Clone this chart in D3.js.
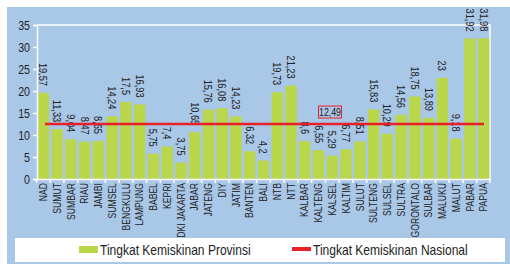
<!DOCTYPE html>
<html>
<head>
<meta charset="utf-8">
<script src="https://cdn.jsdelivr.net/npm/d3@7"></script>
<style>
  body { margin: 0; background: #fff; }
  svg text { font-family: "Liberation Sans", Arial, sans-serif; }
</style>
</head>
<body>
<div id="chart"></div>
<script>
const provinces = ['NAD','SUMUT','SUMBAR','RIAU','JAMBI','SUMSEL','BENGKULU','LAMPUNG','BABEL','KEPRI',
  'DKI JAKARTA','JABAR','JATENG','DIY','JATIM','BANTEN','BALI','NTB','NTT','KALBAR','KALTENG','KALSEL',
  'KALTIM','SULUT','SULTENG','SULSEL','SULTRA','GORONTALO','SULBAR','MALUKU','MALUT','PABAR','PAPUA'];
const povertyRates = [19.57, 11.33, 9.04, 8.47, 8.65, 14.24, 17.5, 16.93, 5.75, 7.4,
  3.75, 10.65, 15.76, 16.08, 14.23, 6.32, 4.2, 19.73, 21.23, 8.6, 6.55, 5.29,
  6.77, 8.51, 15.83, 10.29, 14.56, 18.75, 13.89, 23, 9.18, 31.92, 31.98];
const nationalRate = 12.49;
const yTicks = [0, 5, 10, 15, 20, 25, 30, 35];
const legendLabels = ['Tingkat Kemiskinan Provinsi', 'Tingkat Kemiskinan Nasional'];

const width = 510, height = 264;
const blue = '#a9c7e7', green = '#bad64a', red = '#e8202a';
const narrow = 0.8; // squeeze text, no narrow font installed
const fmt = v => String(v).replace('.', ',');

const data = provinces.map((p, i) => ({ name: p, value: povertyRates[i] }));

const svg = d3.select('#chart').append('svg')
  .attr('width', width).attr('height', height);

// panel background
svg.append('rect').attr('x', 7).attr('y', 7).attr('width', width - 7).attr('height', height - 7)
  .attr('fill', blue);

const x = d3.scaleBand().domain(provinces).range([37, 490]).paddingInner(0.18).paddingOuter(0.05);
const y = d3.scaleLinear().domain([0, 35]).range([179, 25]);

// plot frame (top and right white lines)
svg.append('path')
  .attr('d', `M37,${y(35)}H490V${y(0)}`)
  .attr('fill', 'none').attr('stroke', '#fff').attr('stroke-width', 1.5);

// bars
svg.selectAll('.bar').data(data).enter().append('rect')
  .attr('class', 'bar')
  .attr('x', d => x(d.name))
  .attr('y', d => y(d.value))
  .attr('width', x.bandwidth())
  .attr('height', d => y(0) - y(d.value))
  .attr('fill', green);

// value labels, rotated
svg.selectAll('.val').data(data).enter().append('text')
  .attr('class', 'val')
  .attr('transform', d => `translate(${x(d.name) + x.bandwidth() / 2},${y(d.value) - 7}) rotate(90) scale(${narrow},1)`)
  .attr('text-anchor', 'end')
  .attr('dy', '0.35em')
  .attr('font-size', 11.5)
  .attr('fill', '#222')
  .text(d => fmt(d.value));

// national line
svg.append('line')
  .attr('x1', 45).attr('x2', 484)
  .attr('y1', y(nationalRate)).attr('y2', y(nationalRate))
  .attr('stroke', red).attr('stroke-width', 2.5);

// national label box
const lbl = svg.append('g').attr('transform', `translate(330,${y(nationalRate) - 12})`);
lbl.append('rect').attr('x', -11.5).attr('y', -6).attr('width', 23).attr('height', 12)
  .attr('fill', 'none').attr('stroke', red).attr('stroke-width', 1);
lbl.append('text').attr('text-anchor', 'middle').attr('dy', '0.35em')
  .attr('transform', `scale(${narrow},1)`)
  .attr('font-size', 11).attr('fill', '#222').text(fmt(nationalRate));

// y axis
const yAxis = svg.append('g').attr('transform', 'translate(37,0)')
  .call(d3.axisLeft(y).tickValues(yTicks).tickSize(4).tickPadding(4));
yAxis.select('.domain').attr('stroke', '#fff').attr('stroke-width', 1.5);
yAxis.selectAll('.tick line').attr('stroke', '#fff').attr('stroke-width', 1.5);
yAxis.selectAll('.tick text')
  .attr('x', 0)
  .attr('transform', `translate(-7,0) scale(${narrow + 0.05},1)`)
  .attr('font-size', 12.5).attr('fill', '#222')
  .style('font-family', '"Liberation Sans", Arial, sans-serif');

// x axis
const xAxis = svg.append('g').attr('transform', `translate(0,${y(0)})`)
  .call(d3.axisBottom(x).tickSize(0).tickPadding(4));
xAxis.select('.domain').attr('stroke', '#fff').attr('stroke-width', 1.5);
xAxis.selectAll('.tick text')
  .attr('transform', `rotate(-90) scale(${narrow + 0.02},1)`)
  .attr('text-anchor', 'end')
  .attr('x', -5).attr('y', 0).attr('dy', '0.35em')
  .attr('font-size', 10.5).attr('fill', '#222')
  .style('font-family', '"Liberation Sans", Arial, sans-serif');
// white tick marks between bars
xAxis.selectAll('.sep').data(provinces.concat(['end'])).enter().append('line')
  .attr('class', 'sep')
  .attr('x1', (d, i) => i < provinces.length ? x(d) - x.step() * x.paddingInner() / 2 : 490)
  .attr('x2', (d, i) => i < provinces.length ? x(d) - x.step() * x.paddingInner() / 2 : 490)
  .attr('y1', 0).attr('y2', 4)
  .attr('stroke', '#fff').attr('stroke-width', 1.5);

// legend
svg.append('rect').attr('x', 15).attr('y', 238).attr('width', 490).attr('height', 24).attr('fill', '#fff');
svg.append('rect').attr('x', 79).attr('y', 246).attr('width', 19).attr('height', 7).attr('fill', green);
svg.append('text').attr('transform', `translate(100,250) scale(0.86,1)`).attr('dy', '0.35em')
  .attr('font-size', 14).attr('fill', '#222').text(legendLabels[0]);
svg.append('rect').attr('x', 292).attr('y', 247).attr('width', 19).attr('height', 4).attr('fill', red);
svg.append('text').attr('transform', `translate(313,250) scale(0.86,1)`).attr('dy', '0.35em')
  .attr('font-size', 14).attr('fill', '#222').text(legendLabels[1]);
</script>
</body>
</html>
